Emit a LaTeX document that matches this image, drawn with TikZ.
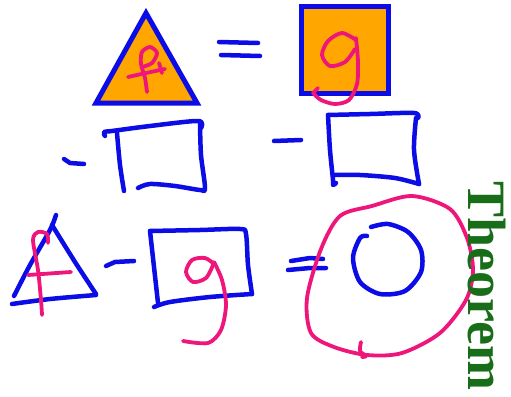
\documentclass[tikz,border=0pt]{standalone}
\usepackage{fontspec}
\setmainfont{Liberation Serif}
\definecolor{penblue}{RGB}{12,12,230}
\definecolor{penpink}{RGB}{238,22,122}
\definecolor{padorange}{RGB}{255,166,0}
\definecolor{thmgreen}{RGB}{24,110,24}

\begin{document}
\begin{tikzpicture}[x=1pt, y=-1pt,
  ink/.style={line cap=round, line join=round},
  bluepen/.style={ink, draw=penblue, line width=4.5pt},
  pinkpen/.style={ink, draw=penpink, line width=3.8pt},
  solidpad/.style={draw=penblue, fill=padorange, line width=5pt, line join=miter},
  title/.style={rotate=-90, inner sep=0pt, text=thmgreen, font=\bfseries\fontsize{54}{60}\selectfont}]
\useasboundingbox (0,0) rectangle (511,396);

% top row: filled triangle = filled square
\draw[solidpad] (146,13) -- (197,103) -- (96,103) -- cycle;
\draw[pinkpen] plot[smooth] coordinates {(147,92) (145,78) (141,64) (142,52) (150,47) (157,53) (152,63) (142,67)};
\draw[pinkpen] plot[smooth] coordinates {(128,77) (146,73) (165,69)};
\draw[pinkpen] (159,63) -- (162,73);
\draw[bluepen] (219,42) -- (258,43);
\draw[bluepen] (221,55) -- (260,56);
\draw[solidpad] (301,7) rectangle (388,93);
\draw[pinkpen] plot[smooth] coordinates {(356,40) (342,33) (328,41) (322,55) (330,66) (345,62) (355,49)};
\draw[pinkpen] plot[smooth] coordinates {(356,38) (358,62) (357,84) (349,100) (335,104) (321,100) (313,93)};
\draw[pinkpen] (313,93) -- (318,88);

% middle row: minus box, minus box
\draw[bluepen] (64,159) -- (70,163) -- (84,164);
\draw[bluepen] plot[smooth] coordinates {(105,136) (104,132) (112,131) (150,126) (198,121) (201,128)};
\draw[bluepen] plot[smooth] coordinates {(117,133) (120,165) (124,191)};
\draw[bluepen] plot[smooth] coordinates {(200,123) (201,155) (205,188) (200,190) (175,186) (150,184) (138,188)};
\draw[bluepen] (274,141) -- (301,140);
\draw[bluepen] plot[smooth] coordinates {(328,115) (370,114) (414,113) (418,118)};
\draw[bluepen] plot[smooth] coordinates {(416,118) (414,150) (419,184)};
\draw[bluepen] plot[smooth] coordinates {(419,184) (395,178) (360,175) (335,175)};
\draw[bluepen] plot[smooth] coordinates {(328,115) (330,150) (333,180) (333,185) (336,183)};

% bottom row: triangle - box = circle
\draw[bluepen] plot[smooth] coordinates {(56,215) (50,230) (30,265) (14,296)};
\draw[bluepen] plot[smooth] coordinates {(52,225) (75,262) (96,294)};
\draw[bluepen] plot[smooth] coordinates {(12,304) (50,299) (96,295)};
\draw[pinkpen] plot[smooth] coordinates {(48,243) (47,234) (38,232) (33,240) (38,270) (41,300) (42,315)};
\draw[pinkpen] (28,275) -- (71,272);
\draw[bluepen] (106,266) -- (115,262) -- (134,261);
\draw[bluepen] plot[smooth] coordinates {(150,231) (200,230) (240,229) (246,234) (248,265) (252,294)};
\draw[bluepen] plot[smooth] coordinates {(252,294) (210,297) (170,302) (154,307)};
\draw[bluepen] (150,231) -- (158,303);
\draw[pinkpen] plot[smooth] coordinates {(214,264) (205,258) (192,260) (186,272) (193,282) (206,278) (213,265)};
\draw[pinkpen] plot[smooth] coordinates {(214,262) (222,280) (226,305) (221,330) (208,343) (183,341)};
\draw[bluepen] (291,261) -- (310,258) -- (323,259);
\draw[bluepen] (288,270) -- (310,268) -- (326,268);
\draw[bluepen] plot[smooth] coordinates {(367,236) (360,238) (353,258) (360,282) (380,294) (405,291) (421,272) (421,250) (408,232) (388,224) (371,227)};
\draw[pinkpen] plot[smooth cycle] coordinates {(340,216) (321,249) (307,298) (311,333) (334,347) (367,355) (402,353) (440,333) (466,300) (473,270) (467,238) (450,209) (412,196) (372,206)};
\draw[pinkpen] plot[smooth] coordinates {(361,342) (360,351) (366,356) (362,357)};

% label
\node[title] (thm) at (487,286) {Theorem};
\end{tikzpicture}
\end{document}
